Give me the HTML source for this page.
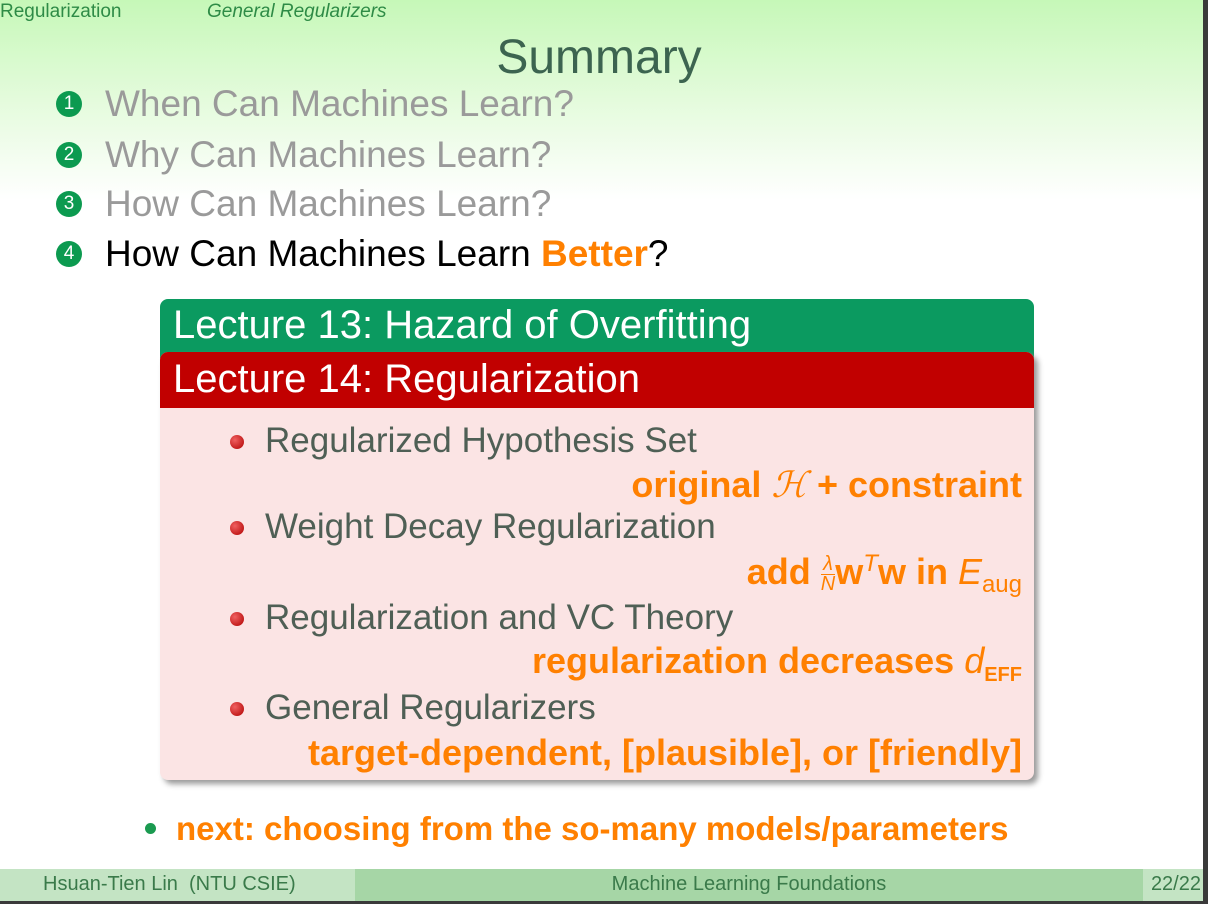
<!DOCTYPE html>
<html><head><meta charset="utf-8"><style>
body{margin:0;width:1208px;height:904px;overflow:hidden;font-family:"Liberation Sans",sans-serif;position:relative;background:#fff}
.a{position:absolute;white-space:nowrap;line-height:1.15}
.bg{position:absolute;left:0;top:0;width:1203px;height:200px;background:linear-gradient(#c6f8b8,#e4fbdc 50%,#fff)}
.num{position:absolute;width:26px;height:26px;border-radius:50%;background:#0c9a50;color:#fff;font-size:19px;text-align:center;line-height:26px}
.it{font-size:37px;color:#9a9a9a}
.b{font-size:35px;color:#4f5f55}
.bul{position:absolute;width:14px;height:14px;border-radius:50%;background:radial-gradient(circle at 35% 35%,#f06060,#b00000)}
.o{font-size:36px;color:#ff8000;font-weight:bold;text-align:right;right:186px}
</style></head><body>
<div class="bg"></div>
<div class="a" style="left:0;top:1px;font-size:19px;color:#2e8b46">Regularization</div>
<div class="a" style="left:207px;top:1px;font-size:19px;color:#2e8b46;font-style:italic">General Regularizers</div>
<div class="a" style="left:0;width:1198px;text-align:center;top:30px;font-size:48px;color:#3c6450">Summary</div>

<div class="num" style="left:56px;top:91px">1</div>
<div class="a it" style="left:105px;top:83px">When Can Machines Learn?</div>
<div class="num" style="left:56px;top:142px">2</div>
<div class="a it" style="left:105px;top:134px">Why Can Machines Learn?</div>
<div class="num" style="left:56px;top:191px">3</div>
<div class="a it" style="left:105px;top:183px">How Can Machines Learn?</div>
<div class="num" style="left:56px;top:241px">4</div>
<div class="a it" style="left:105px;top:233px;color:#000">How Can Machines Learn <b style="color:#ff8000">Better</b>?</div>

<div class="a" style="left:160px;top:299px;width:874px;height:60px;background:#0b9a60;border-radius:8px 8px 0 0"><span style="position:absolute;left:13px;top:3px;font-size:40px;color:#fff">Lecture 13: Hazard of Overfitting</span></div>
<div class="a" style="left:160px;top:352px;width:874px;height:428px;background:#fbe4e4;border-radius:8px;box-shadow:4px 4px 6px #999"></div>
<div class="a" style="left:160px;top:352px;width:874px;height:56px;background:#c10000;border-radius:8px 8px 0 0"><span style="position:absolute;left:13px;top:4px;font-size:40px;color:#fff">Lecture 14: Regularization</span></div>

<div class="bul" style="left:230px;top:435px"></div>
<div class="a b" style="left:265px;top:421px">Regularized Hypothesis Set</div>
<div class="a o" style="top:464px">original <i style="font-family:'Liberation Serif',serif;font-weight:normal">ℋ</i> + constraint</div>
<div class="bul" style="left:230px;top:521px"></div>
<div class="a b" style="left:265px;top:507px">Weight Decay Regularization</div>
<div class="a o" style="top:550px">add <span style="display:inline-block;vertical-align:middle;font-size:20px;font-weight:normal;text-align:center;line-height:19px"><i>λ</i><br><span style="border-top:1px solid #ff8000;display:block"><i>N</i></span></span>w<sup style="font-size:24px;font-style:italic;font-weight:normal">T</sup>w in <i style="font-weight:normal">E</i><sub style="font-size:24px;font-weight:normal">aug</sub></div>
<div class="bul" style="left:230px;top:612px"></div>
<div class="a b" style="left:265px;top:598px">Regularization and VC Theory</div>
<div class="a o" style="top:640px">regularization decreases <i style="font-weight:normal">d</i><sub style="font-size:20px">EFF</sub></div>
<div class="bul" style="left:230px;top:702px"></div>
<div class="a b" style="left:265px;top:688px">General Regularizers</div>
<div class="a o" style="top:732px">target-dependent, [plausible], or [friendly]</div>

<div class="a" style="left:145px;top:823px;width:11px;height:11px;border-radius:50%;background:#1a9a50"></div>
<div class="a" style="left:176px;top:810px;font-size:33px;font-weight:bold;color:#ff8000">next: choosing from the so-many models/parameters</div>

<div class="a" style="left:0;top:869px;width:355px;height:32px;background:#c4e4c4"><span style="position:absolute;left:43px;top:4px;font-size:20px;color:#3a7a4a">Hsuan-Tien Lin&nbsp; (NTU CSIE)</span></div>
<div class="a" style="left:355px;top:869px;width:788px;height:32px;background:#a6d6a6"><span style="position:absolute;left:0;width:788px;text-align:center;top:4px;font-size:20px;color:#3a7a4a">Machine Learning Foundations</span></div>
<div class="a" style="left:1143px;top:869px;width:60px;height:32px;background:#c4e4c4"><span style="position:absolute;right:2px;top:4px;font-size:20px;color:#3a7a4a">22/22</span></div>
<div class="a" style="left:1203px;top:0;width:5px;height:904px;background:#3a3a3a"></div>
<div class="a" style="left:0;top:901px;width:1208px;height:3px;background:#3a3a3a"></div>
</body></html>
